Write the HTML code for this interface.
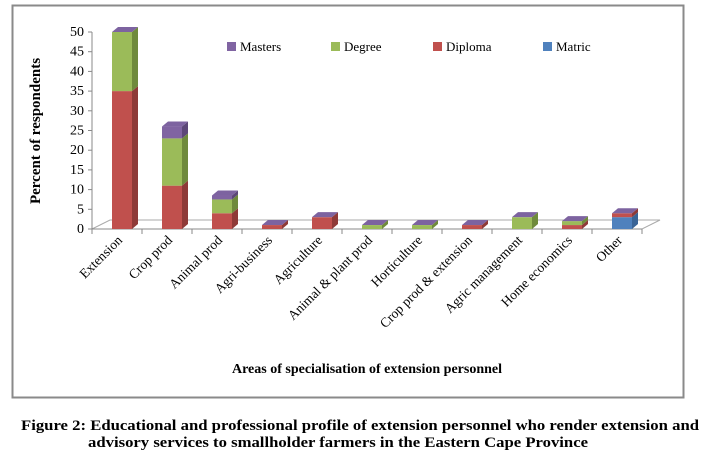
<!DOCTYPE html>
<html><head><meta charset="utf-8"><style>
body{margin:0;background:#fff;width:702px;height:463px;overflow:hidden}
svg text{font-family:"Liberation Serif",serif}
</style></head><body>
<svg width="702" height="463">
<rect x="12.5" y="5.5" width="671" height="392" fill="#fff" stroke="#8a8a8a" stroke-width="2"/>
<g id="axes"></g><g id="bars"></g>
<g font-size="13">
<rect x="227" y="42" width="9" height="9" fill="#8064a2"/><text x="240" y="51">Masters</text>
<rect x="331" y="42" width="9" height="9" fill="#9bbb59"/><text x="344" y="51">Degree</text>
<rect x="433" y="42" width="9" height="9" fill="#c0504d"/><text x="446" y="51">Diploma</text>
<rect x="543" y="42" width="9" height="9" fill="#4f81bd"/><text x="556" y="51">Matric</text>
</g>
<text transform="translate(40,131) rotate(-90)" text-anchor="middle" font-size="15" font-weight="bold">Percent of respondents</text>
<text x="367" y="373" text-anchor="middle" font-size="14" font-weight="bold">Areas of specialisation of extension personnel</text>
<text x="360" y="430" text-anchor="middle" font-size="15" font-weight="bold" textLength="678" lengthAdjust="spacingAndGlyphs">Figure 2: Educational and professional profile of extension personnel who render extension and</text>
<text x="338" y="447" text-anchor="middle" font-size="15" font-weight="bold" textLength="500" lengthAdjust="spacingAndGlyphs">advisory services to smallholder farmers in the Eastern Cape Province</text>
</svg>
<script>
const categories=["Extension","Crop prod","Animal prod","Agri-business","Agriculture","Animal & plant prod","Horticulture","Crop prod & extension","Agric management","Home economics","Other"];
const matric=[0,0,0,0,0,0,0,0,0,0,3];
const diploma=[35,11,4,1,3,0,0,1,0,1,1];
const degree=[15,12,3.5,0,0,1,1,0,3,1,0];
const masters=[0,3,1,0,0,0,0,0,0,0,0];
const yTicks=[0,5,10,15,20,25,30,35,40,45,50];
const NS="http://www.w3.org/2000/svg";
const x0=92,cw=50,y0=229,ppu=3.94,bw=20,dx=6,dy=5;
const yS=v=>y0-v*ppu;const xS=i=>x0+i*cw;
function mk(t,a,p){const e=document.createElementNS(NS,t);for(const k in a)e.setAttribute(k,a[k]);p.appendChild(e);return e;}
const ax=document.getElementById('axes'),bg=document.getElementById('bars');
mk('path',{d:`M${x0} ${y0} L${x0+18} ${y0-9} L${x0+550+18} ${y0-9} L${x0+550} ${y0} Z`,fill:'none',stroke:'#aaa'},ax);
const yl=mk('line',{x1:x0,y1:yS(50),x2:x0,y2:y0,stroke:'#888'},ax);

const xl=mk('line',{x1:x0,y1:y0,x2:x0+550,y2:y0,stroke:'#888'},ax);

yTicks.forEach(v=>{mk('line',{x1:x0-4,y1:yS(v),x2:x0,y2:yS(v),stroke:'#888'},ax);
const t=mk('text',{x:x0-8,y:yS(v)+4,'text-anchor':'end','font-size':14},ax);t.textContent=v;
});
for(let i=0;i<=categories.length;i++)mk('line',{x1:xS(i),y1:y0,x2:xS(i),y2:y0+5,stroke:'#888'},ax);
categories.forEach((c,i)=>{const cx=xS(i)+cw/2+6;
const t=mk('text',{transform:`translate(${cx},241) rotate(-45)`,'text-anchor':'end','font-size':13.5},ax);t.textContent=c;
});
const series=[[matric,'#4f81bd','#3a6496','matric'],[diploma,'#c0504d','#8e3a38','diploma'],[degree,'#9bbb59','#6f8a3c','degree'],[masters,'#8064a2','#5c4778','masters']];
categories.forEach((c,i)=>{let base=0;const bx=xS(i)+20;let top=null;
series.forEach(([arr,f,s,nm])=>{const v=arr[i];if(!v)return;const ya=yS(base+v),yb=yS(base);
const r=mk('rect',{x:bx,y:ya,width:bw,height:yb-ya,fill:f},bg);

mk('path',{d:`M${bx+bw} ${ya} L${bx+bw+dx} ${ya-dy} L${bx+bw+dx} ${yb-dy} L${bx+bw} ${yb} Z`,fill:s},bg);
top=ya;base+=v;});
if(top!==null){mk('path',{d:`M${bx} ${top} L${bx+dx} ${top-dy} L${bx+bw+dx} ${top-dy} L${bx+bw} ${top} Z`,fill:'#7d63a0'},bg);}
});
</script>
</body></html>
